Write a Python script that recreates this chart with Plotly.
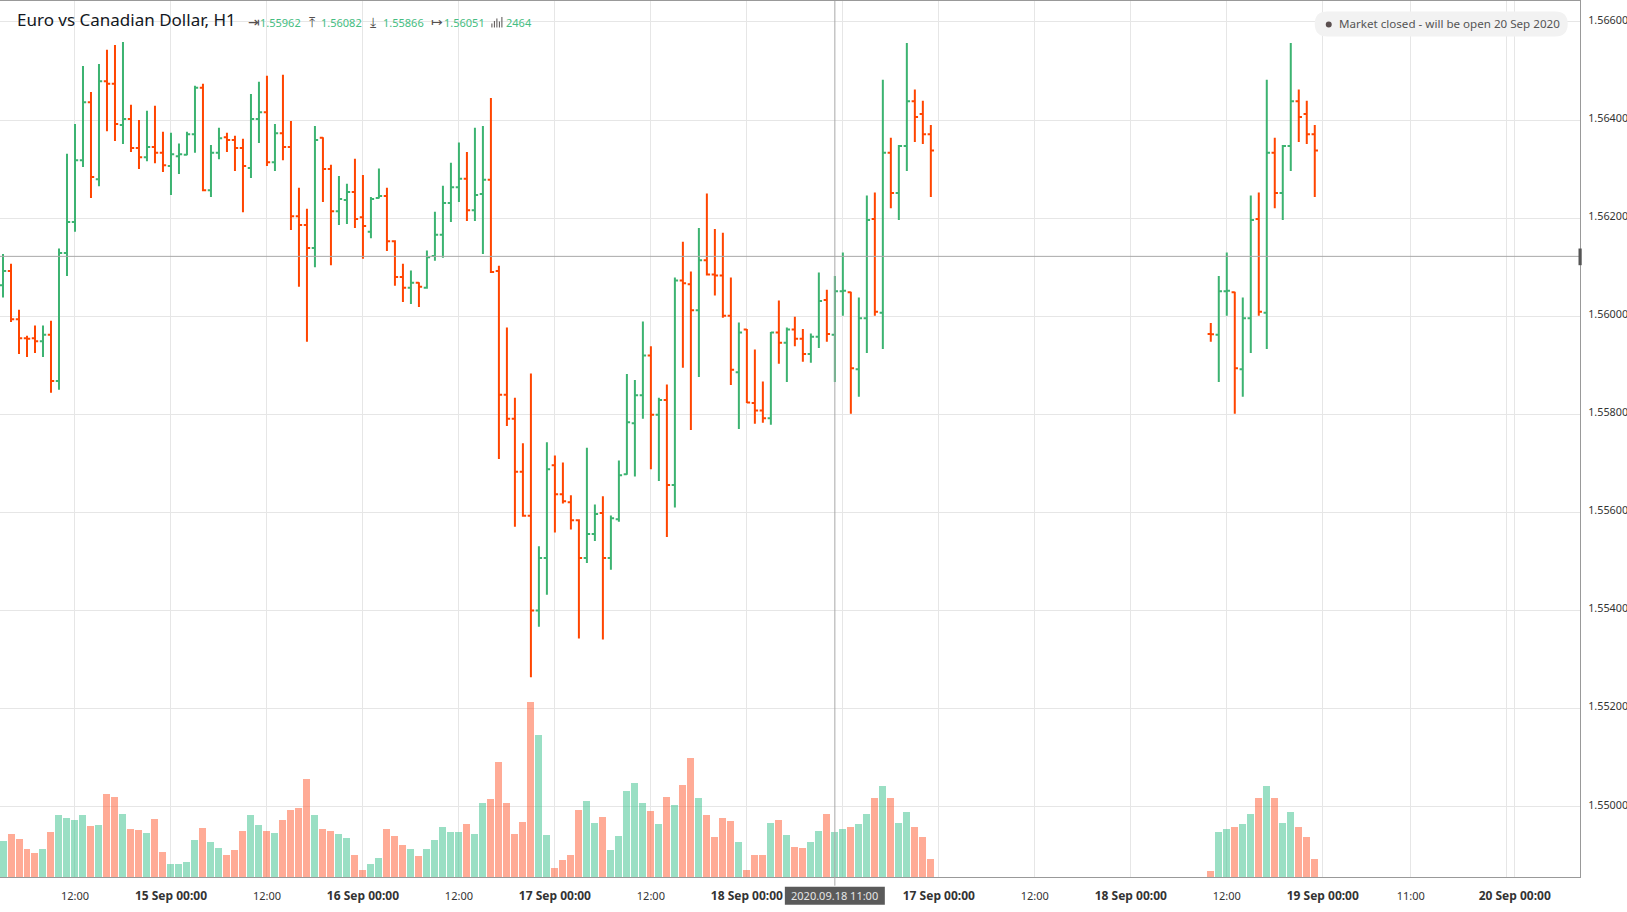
import plotly.graph_objects as go

# hourly bars, index 0 = 14 Sep 03:00
open_ = [
    1.56063, 1.56092, 1.55994, 1.55955, 1.55955, 1.55949, 1.55962, 1.55868, 1.56129, 1.56192,
    1.56318, 1.56436, 1.56279, 1.56479, 1.56474, 1.56390, 1.56402, 1.56343, 1.56324, 1.56345,
    1.56333, 1.56306, 1.56326, 1.56329, 1.56371, 1.56466, 1.56257, 1.56333, 1.56365, 1.56359,
    1.56343, 1.56302, 1.56402, 1.56416, 1.56314, 1.56373, 1.56345, 1.56204, 1.56186, 1.56139,
    1.56364, 1.56300, 1.56214, 1.56237, 1.56253, 1.56202, 1.56172, 1.56241, 1.56245, 1.56153,
    1.56080, 1.56058, 1.56068, 1.56058, 1.56123, 1.56166, 1.56231, 1.56263, 1.56280, 1.56216,
    1.56249, 1.56278, 1.56092, 1.55840, 1.55791, 1.55683, 1.55593, 1.55400, 1.55507, 1.55696,
    1.55637, 1.55621, 1.55584, 1.55507, 1.55556, 1.55599, 1.55507, 1.55586, 1.55678, 1.55782,
    1.55839, 1.55920, 1.55799, 1.55829, 1.55656, 1.56073, 1.56065, 1.56012, 1.56114, 1.56085,
    1.56083, 1.56001, 1.55886, 1.55973, 1.55823, 1.55808, 1.55792, 1.55967, 1.55946, 1.55973,
    1.55954, 1.55923, 1.55958, 1.56033, 1.55962, 1.56051, 1.56049, 1.55892, 1.55996, 1.56198,
    1.56007, 1.56333, 1.56251, 1.56347, 1.56438, 1.56412, 1.56371,
]
high = [
    1.56127, 1.56107, 1.56013, 1.55960, 1.55981, 1.55981, 1.55991, 1.56138, 1.56331, 1.56392,
    1.56510, 1.56457, 1.56514, 1.56543, 1.56553, 1.56559, 1.56431, 1.56400, 1.56419, 1.56429,
    1.56376, 1.56374, 1.56352, 1.56376, 1.56470, 1.56474, 1.56349, 1.56384, 1.56374, 1.56368,
    1.56362, 1.56453, 1.56478, 1.56490, 1.56392, 1.56492, 1.56398, 1.56262, 1.56219, 1.56388,
    1.56365, 1.56309, 1.56286, 1.56270, 1.56321, 1.56288, 1.56243, 1.56301, 1.56262, 1.56155,
    1.56107, 1.56093, 1.56069, 1.56134, 1.56213, 1.56266, 1.56313, 1.56354, 1.56335, 1.56384,
    1.56388, 1.56445, 1.56103, 1.55977, 1.55834, 1.55741, 1.55883, 1.55531, 1.55743, 1.55716,
    1.55702, 1.55635, 1.55586, 1.55732, 1.55616, 1.55633, 1.55594, 1.55706, 1.55882, 1.55870,
    1.55989, 1.55939, 1.55834, 1.55861, 1.56079, 1.56152, 1.56091, 1.56180, 1.56250, 1.56178,
    1.56170, 1.56079, 1.55987, 1.55974, 1.55932, 1.55867, 1.55968, 1.56032, 1.55977, 1.55999,
    1.55974, 1.55965, 1.56089, 1.56054, 1.56082, 1.56130, 1.56050, 1.56038, 1.56246, 1.56252,
    1.56482, 1.56364, 1.56349, 1.56557, 1.56462, 1.56439, 1.56390,
]
low = [
    1.56038, 1.55988, 1.55923, 1.55917, 1.55925, 1.55917, 1.55844, 1.55850, 1.56082, 1.56172,
    1.56304, 1.56241, 1.56265, 1.56377, 1.56357, 1.56351, 1.56335, 1.56300, 1.56316, 1.56312,
    1.56294, 1.56247, 1.56290, 1.56328, 1.56333, 1.56255, 1.56243, 1.56320, 1.56335, 1.56296,
    1.56212, 1.56282, 1.56353, 1.56306, 1.56296, 1.56318, 1.56176, 1.56060, 1.55948, 1.56100,
    1.56233, 1.56104, 1.56186, 1.56188, 1.56180, 1.56117, 1.56159, 1.56240, 1.56133, 1.56062,
    1.56029, 1.56025, 1.56019, 1.56056, 1.56113, 1.56119, 1.56192, 1.56233, 1.56194, 1.56194,
    1.56127, 1.56088, 1.55709, 1.55776, 1.55571, 1.55591, 1.55264, 1.55367, 1.55432, 1.55559,
    1.55618, 1.55565, 1.55343, 1.55497, 1.55542, 1.55341, 1.55483, 1.55581, 1.55677, 1.55673,
    1.55791, 1.55688, 1.55664, 1.55550, 1.55610, 1.55895, 1.55768, 1.55876, 1.56083, 1.56042,
    1.55997, 1.55860, 1.55770, 1.55823, 1.55781, 1.55783, 1.55779, 1.55903, 1.55866, 1.55939,
    1.55907, 1.55905, 1.55935, 1.55948, 1.55866, 1.56001, 1.55801, 1.55836, 1.55925, 1.56001,
    1.55933, 1.56220, 1.56196, 1.56296, 1.56355, 1.56351, 1.56243,
]
close = [
    1.56092, 1.55994, 1.55955, 1.55954, 1.55949, 1.55962, 1.55868, 1.56129, 1.56192, 1.56318,
    1.56436, 1.56284, 1.56479, 1.56474, 1.56392, 1.56402, 1.56343, 1.56324, 1.56345, 1.56333,
    1.56308, 1.56330, 1.56330, 1.56371, 1.56466, 1.56257, 1.56333, 1.56363, 1.56359, 1.56343,
    1.56306, 1.56402, 1.56416, 1.56314, 1.56373, 1.56345, 1.56204, 1.56186, 1.56139, 1.56359,
    1.56300, 1.56214, 1.56239, 1.56253, 1.56198, 1.56184, 1.56239, 1.56245, 1.56153, 1.56080,
    1.56058, 1.56068, 1.56060, 1.56120, 1.56166, 1.56231, 1.56263, 1.56280, 1.56216, 1.56247,
    1.56278, 1.56090, 1.55840, 1.55791, 1.55683, 1.55593, 1.55400, 1.55507, 1.55688, 1.55637,
    1.55623, 1.55584, 1.55507, 1.55556, 1.55597, 1.55507, 1.55588, 1.55676, 1.55784, 1.55839,
    1.55920, 1.55799, 1.55829, 1.55656, 1.56073, 1.56067, 1.56012, 1.56114, 1.56085, 1.56083,
    1.56001, 1.55891, 1.55967, 1.55824, 1.55808, 1.55792, 1.55967, 1.55946, 1.55973, 1.55954,
    1.55923, 1.55958, 1.56031, 1.55964, 1.56051, 1.56052, 1.55894, 1.55996, 1.56196, 1.56009,
    1.56333, 1.56251, 1.56347, 1.56438, 1.56406, 1.56371, 1.56338,
]
volume = [
    1976, 2357, 2085, 1541, 1323, 1541, 2466, 3390, 3227, 3118,
    3390, 2792, 2846, 4532, 4369, 3445, 2629, 2574, 2411, 3173,
    1378, 725, 725, 834, 2030, 2683, 1922, 1595, 1215, 1487,
    2520, 3390, 2846, 2520, 2411, 3118, 3662, 3771, 5348, 3390,
    2629, 2520, 2357, 2139, 1215, 399, 725, 1052, 2629, 2248,
    1759, 1541, 1160, 1541, 2030, 2738, 2466, 2466, 2901, 2357,
    4043, 4261, 6273, 4043, 2357, 3010, 9536, 7742, 2303, 508,
    943, 1215, 3662, 4152, 2955, 3282, 1487, 2248, 4696, 5131,
    4043, 3608, 2901, 4369, 3934, 5022, 6491, 4315, 3390, 2194,
    3227, 3064, 1922, 399, 1215, 1215, 2955, 3118, 2303, 1650,
    1595, 1922, 2520, 3445, 2464, 2629, 2738, 2901, 3445, 4315,
    4968, 4315, 2955, 3553, 2738, 2194, 997,
]
bar_index = list(range(len(open_)))

# the chart repeats its last hours further right, the first of them still forming
repeat_index = list(range(151, 165))
repeat_first = (1.55964, 1.55986, 1.55948, 1.55963, 344)

tick_bars = [9, 21, 33, 45, 57, 69, 81, 93, 105, 117, 129, 141, 153, 165, 176, 188, 189]
tick_names = ["12:00", "15 Sep 00:00", "12:00", "16 Sep 00:00", "12:00",
              "17 Sep 00:00", "12:00", "18 Sep 00:00", "", "17 Sep 00:00",
              "12:00", "18 Sep 00:00", "12:00", "19 Sep 00:00", "11:00", "",
              "20 Sep 00:00"]
price_ticks = [1.55, 1.552, 1.554, 1.556, 1.558, 1.56, 1.562, 1.564, 1.566]

cross_bar = 104
cross_price = 1.56122

GREEN = "#3cb371"
RED = "#ff4500"
VOL_GREEN = "rgba(54,192,138,0.5)"
VOL_RED = "rgba(255,88,46,0.5)"
FONT = "Noto Sans"

W, H = 1627, 912
LEFT, RIGHT, TOP, BOTTOM = 0, 1580.3, 0.5, 877.3


def px(x):
    return x / RIGHT


def py(y):
    return 1 - (y - TOP) / (BOTTOM - TOP)


x_all = bar_index + repeat_index
o_all = open_ + [repeat_first[0]] + open_[104:]
h_all = high + [repeat_first[1]] + high[104:]
l_all = low + [repeat_first[2]] + low[104:]
c_all = close + [repeat_first[3]] + close[104:]
v_all = volume + [repeat_first[4]] + volume[104:]
vol_colors = [VOL_GREEN if c > o else VOL_RED for o, c in zip(o_all, c_all)]

# day labels are bold and a little larger than the hour labels
tick_labels = [f'<span style="font-size:12px"><b>{t}</b></span>' if "Sep" in t else t
               for t in tick_names]

fig = go.Figure()
fig.add_trace(go.Bar(x=x_all, y=v_all, yaxis="y2", width=0.875,
                     marker=dict(color=vol_colors, line_width=0), hoverinfo="skip"))
fig.add_trace(go.Ohlc(x=x_all, open=o_all, high=h_all, low=l_all, close=c_all, tickwidth=0.4,
                      increasing_line=dict(color=GREEN, width=2),
                      decreasing_line=dict(color=RED, width=2), hoverinfo="skip"))


def label(text, x, y, size=11, color="#333333", xanchor="left"):
    return dict(text=text, x=px(x), y=py(y), xref="paper", yref="paper", showarrow=False,
                xanchor=xanchor, yanchor="middle", font=dict(family=FONT, size=size, color=color))


header_green = "#45bd82"
icon_color = "#55504f"
annotations = [
    label("Euro vs Canadian Dollar, H1", 15, 19, size=17, color="#131722"),
    label("⇥", 246.5, 21.5, size=14, color=icon_color),
    label("1.55962", 258.5, 22, color=header_green),
    label("⤒", 307, 21.5, size=14, color=icon_color),
    label("1.56082", 319.5, 22, color=header_green),
    label("⤓", 368, 21.5, size=14, color=icon_color),
    label("1.55866", 381, 22, color=header_green),
    label("↦", 429, 21.5, size=14, color=icon_color),
    label("1.56051", 442.5, 22, color=header_green),
    label("2464", 504.5, 22, color=header_green),
    label("Market closed - will be open 20 Sep 2020", 1337, 23.5, size=11.6, color="#555555"),
    label("2020.09.18 11:00", 835, 896, size=11, color="#e6e6e6", xanchor="center"),
]

# pill behind the market status
pl, pr, pt, pb, rx = px(1315), px(1568), py(11), py(36), px(12.5)
pill = (f"M {pl + rx} {pt} L {pr - rx} {pt} Q {pr} {pt} {pr} {py(23.5)} Q {pr} {pb} {pr - rx} {pb} "
        f"L {pl + rx} {pb} Q {pl} {pb} {pl} {py(23.5)} Q {pl} {pt} {pl + rx} {pt} Z")

shapes = [
    dict(type="path", path=pill, xref="paper", yref="paper", fillcolor="#f2f2f2", line_width=0),
    dict(type="circle", xref="paper", yref="paper", x0=px(1326), x1=px(1332), y0=py(27), y1=py(21),
         fillcolor="#5a4f4f", line_width=0),
    dict(type="line", xref="x", yref="paper", x0=cross_bar, x1=cross_bar, y0=py(886), y1=1,
         line=dict(color="#a8a8a8", width=1)),
    dict(type="line", xref="paper", yref="y", x0=0, x1=1, y0=cross_price, y1=cross_price,
         line=dict(color="#a8a8a8", width=1)),
    dict(type="rect", xref="paper", yref="y", x0=px(1578.8), x1=px(1582), y0=cross_price + 0.00016,
         y1=cross_price - 0.00018, fillcolor="#555555", line_width=0),
    dict(type="rect", xref="paper", yref="paper", x0=px(785), x1=px(885), y0=py(887), y1=py(905),
         fillcolor="#5a5a5a", line_width=0),
]
# volume icon in the header
for bx, bt in [(492, 23), (494.5, 20.5), (497, 18), (499.5, 21), (502, 16.5)]:
    shapes.append(dict(type="line", xref="paper", yref="paper", x0=px(bx), x1=px(bx), y0=py(27),
                       y1=py(bt), line=dict(color=icon_color, width=1)))

fig.update_layout(
    width=W, height=H, margin=dict(l=0, r=W - RIGHT, t=TOP, b=H - BOTTOM, pad=0),
    plot_bgcolor="white", paper_bgcolor="white", showlegend=False, hovermode=False,
    bargap=0, annotations=annotations, shapes=shapes, font=dict(family=FONT, color="#333333"),
    xaxis=dict(range=[-0.375, 197.16], rangeslider_visible=False, tickmode="array",
               tickvals=tick_bars, ticktext=tick_labels, showgrid=True, gridcolor="#e6e6e6",
               gridwidth=1, zeroline=False, showline=True, linecolor="#999999", linewidth=1,
               mirror=True, ticks="", ticklabelstandoff=9, tickfont=dict(size=11, family=FONT)),
    yaxis=dict(range=[1.548568, 1.566426], side="right", tickmode="array", tickvals=price_ticks,
               tickformat=".5f", showgrid=True, gridcolor="#e6e6e6", gridwidth=1, zeroline=False,
               showline=True, linecolor="#999999", linewidth=1, ticks="", ticklabelstandoff=5,
               ticklabelshift=-2, tickfont=dict(size=10.8, family=FONT)),
    yaxis2=dict(range=[0, 47698], overlaying="y", visible=False),
)

fig.write_html("out.html", config={"displayModeBar": False},
               post_script="document.body.style.margin='0';document.body.style.overflow='hidden';")
